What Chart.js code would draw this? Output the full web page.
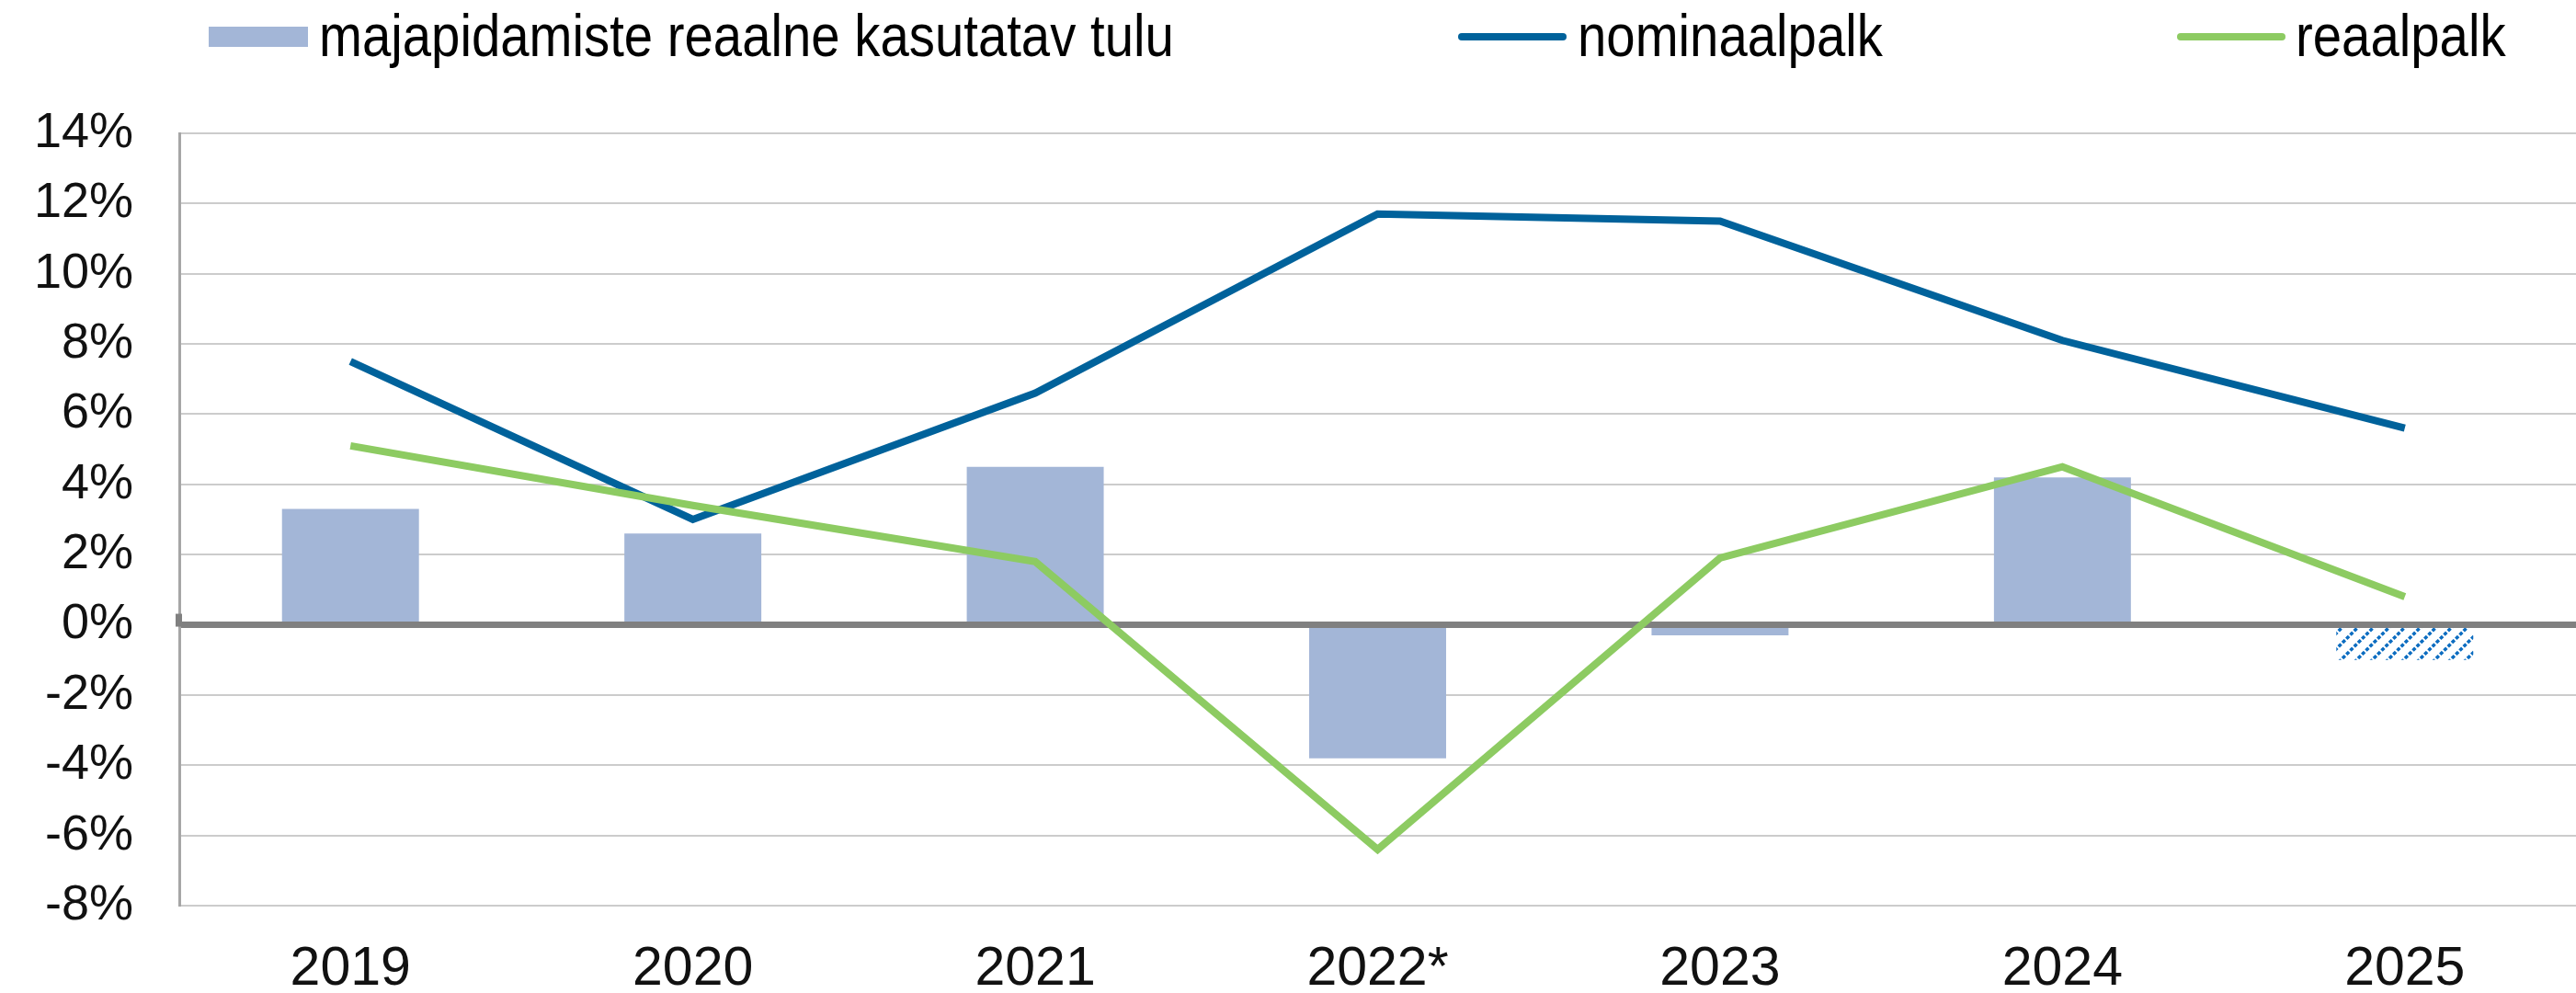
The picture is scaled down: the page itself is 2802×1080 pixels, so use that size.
<!DOCTYPE html>
<html>
<head>
<meta charset="utf-8">
<script src="https://cdn.jsdelivr.net/npm/chart.js@4.4.1/dist/chart.umd.min.js"></script>
<style>
  html, body { margin: 0; padding: 0; background: #ffffff; }
  #wrap { width: 2802px; height: 1080px; position: relative; }
</style>
</head>
<body>
<div id="wrap"><canvas id="palgad"></canvas></div>
<script>
// andmed
const aastad = ['2019', '2020', '2021', '2022*', '2023', '2024', '2025'];
const tuluReaalne = [3.3, 2.6, 4.5, -3.8, -0.3, 4.2, -1.0];
const palkNominaal = [7.5, 3.0, 6.6, 11.7, 11.5, 8.1, 5.6];
const palkReaal = [5.1, 3.4, 1.8, -6.4, 1.9, 4.5, 0.8];
const yMin = -8;
const yMax = 14;
const ySamm = 2;

const tulpVarv = '#a3b6d7';
const sinine = '#00629b';
const roheline = '#8dcb62';
const kiri = '"Liberation Sans", Arial, sans-serif';

// viirutatud muster (prognoos)
function viirutus() {
    const c = document.createElement('canvas');
    c.width = 17;
    c.height = 17;
    const g = c.getContext('2d');
    g.strokeStyle = '#0b6cc0';
    g.lineWidth = 3.5;
    g.setLineDash([4, 2]);
    g.beginPath();
    g.moveTo(-2, 19); g.lineTo(19, -2);
    g.moveTo(-2, 2); g.lineTo(2, -2);
    g.moveTo(15, 19); g.lineTo(19, 15);
    g.stroke();
    return g.createPattern(c, 'repeat');
}

const ctx = document.getElementById('palgad').getContext('2d');
const muster = viirutus();
const tulpTaust = tuluReaalne.map((v, i) => i === tuluReaalne.length - 1 ? muster : tulpVarv);

// legend üleval, kindlatel kohtadel
const legendPlugin = {
    id: 'ylaLegend',
    afterDraw(chart) {
        const c = chart.ctx;
        const kohad = [
            { swatch: 227, tekst: 347 },
            { swatch: 1586, tekst: 1716 },
            { swatch: 2368, tekst: 2497 }
        ];
        const y = 40;
        c.save();
        c.font = '64px ' + kiri;
        c.textBaseline = 'middle';
        chart.data.datasets.forEach((ds, i) => {
            const k = kohad[i];
            if (ds.type === 'bar') {
                c.fillStyle = tulpVarv;
                c.fillRect(k.swatch, y - 11, 108, 22);
            } else {
                c.strokeStyle = ds.borderColor;
                c.lineWidth = 8;
                c.lineCap = 'round';
                c.beginPath();
                c.moveTo(k.swatch + 4, y);
                c.lineTo(k.swatch + 114, y);
                c.stroke();
            }
            c.save();
            c.translate(k.tekst, y + 3);
            c.scale(0.88, 1);
            c.fillStyle = '#000000';
            c.fillText(ds.label, 0, 0);
            c.restore();
        });
        c.restore();
    }
};

// väike kriips nulljoone vasakus otsas
const nullKriips = {
    id: 'nullKriips',
    afterDatasetsDraw(chart) {
        const c = chart.ctx;
        const y0 = chart.scales.y.getPixelForValue(0);
        const x0 = chart.chartArea.left;
        c.save();
        c.fillStyle = '#808080';
        c.fillRect(x0 - 4, y0 - 12, 7, 14);
        c.restore();
    }
};

new Chart(ctx, {
    data: {
        labels: aastad,
        datasets: [
            {
                type: 'bar',
                label: 'majapidamiste reaalne kasutatav tulu',
                data: tuluReaalne,
                backgroundColor: tulpTaust,
                categoryPercentage: 0.4,
                barPercentage: 1.0,
                order: 3
            },
            {
                type: 'line',
                label: 'nominaalpalk',
                data: palkNominaal,
                borderColor: sinine,
                borderWidth: 8,
                pointRadius: 0,
                tension: 0,
                order: 2
            },
            {
                type: 'line',
                label: 'reaalpalk',
                data: palkReaal,
                borderColor: roheline,
                borderWidth: 8,
                pointRadius: 0,
                tension: 0,
                order: 1
            }
        ]
    },
    options: {
        responsive: true,
        maintainAspectRatio: false,
        animation: false,
        layout: {
            padding: { top: 145, right: 0, bottom: 0, left: 0 }
        },
        plugins: {
            legend: { display: false },
            tooltip: { enabled: false }
        },
        scales: {
            x: {
                offset: true,
                grid: { display: false, drawTicks: false },
                border: { display: false },
                ticks: {
                    color: '#111111',
                    font: { family: kiri, size: 59 },
                    padding: 34
                },
                afterFit(scale) { scale.height = 95; }
            },
            y: {
                min: yMin,
                max: yMax,
                border: { display: true, color: '#a6a6a6', width: 3 },
                grid: {
                    drawTicks: false,
                    color: (c) => c.tick && c.tick.value === 0 ? '#808080' : '#cccccc',
                    lineWidth: (c) => c.tick && c.tick.value === 0 ? 7 : 2
                },
                ticks: {
                    stepSize: ySamm,
                    color: '#111111',
                    font: { family: kiri, size: 54 },
                    padding: 50,
                    callback: (v) => v + '%'
                },
                afterFit(scale) { scale.width = 195; }
            }
        }
    },
    plugins: [legendPlugin, nullKriips]
});
</script>
</body>
</html>
